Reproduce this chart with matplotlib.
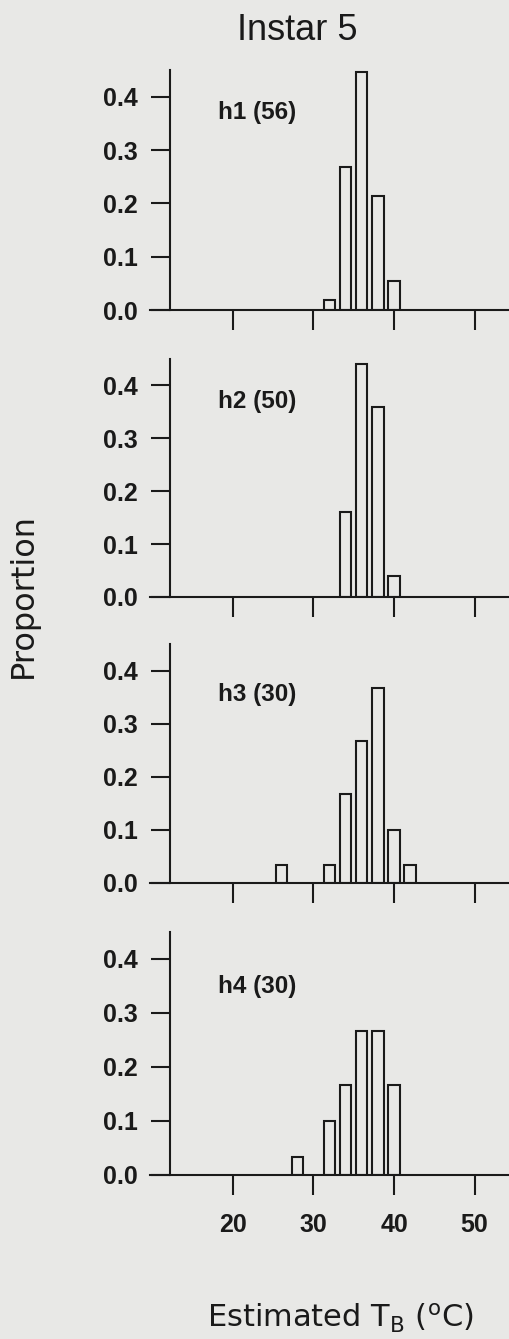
import matplotlib
matplotlib.use("Agg")
import matplotlib.pyplot as plt
import numpy as np

plt.rcParams['font.family'] = ['Liberation Sans', 'DejaVu Sans']
plt.rcParams['mathtext.fontset'] = 'custom'
plt.rcParams['mathtext.rm'] = 'DejaVu Sans'
plt.rcParams['mathtext.it'] = 'DejaVu Sans:italic'
plt.rcParams['mathtext.bf'] = 'DejaVu Sans:bold'

# Body temperature bins (deg C) and counts per bin for each habitat
bin_centers = [26, 28, 30, 32, 34, 36, 38, 40, 42]
habitats = ['h1', 'h2', 'h3', 'h4']
sample_sizes = [56, 50, 30, 30]
counts_h1 = [0, 0, 0, 1, 15, 25, 12, 3, 0]
counts_h2 = [0, 0, 0, 0, 8, 22, 18, 2, 0]
counts_h3 = [1, 0, 0, 1, 5, 8, 11, 3, 1]
counts_h4 = [0, 1, 0, 3, 5, 8, 8, 5, 0]
all_counts = [counts_h1, counts_h2, counts_h3, counts_h4]

x_ticks = [20, 30, 40, 50]
y_ticks = [0.0, 0.1, 0.2, 0.3, 0.4]

W, H = 510, 1339
bg = '#e8e8e6'
ink = '#1a1a1a'
fig = plt.figure(figsize=(W / 100, H / 100), dpi=100, facecolor=bg)

# panel extents in pixels: (x-axis row, top of y range)
panel_px = [(310, 70), (597, 359), (883, 644), (1175, 932)]
label_y = [0.37, 0.37, 0.355, 0.35]
left_px, right_px = 150, 510
xlim = (9.7, 54.4)
spine_x = 12.2

for i, (bottom, top) in enumerate(panel_px):
    ax = fig.add_axes([left_px / W, 1 - bottom / H,
                       (right_px - left_px) / W, (bottom - top) / H])
    ax.set_facecolor('none')
    props = np.array(all_counts[i]) / sample_sizes[i]
    mask = props > 0
    ax.bar(np.array(bin_centers)[mask], props[mask], width=1.4,
           facecolor='none', edgecolor=ink, linewidth=1.5)
    ax.set_xlim(*xlim)
    ax.set_ylim(0, 0.45)
    for s in ['top', 'right']:
        ax.spines[s].set_visible(False)
    ax.spines['left'].set_position(('data', spine_x))
    for s in ['left', 'bottom']:
        ax.spines[s].set_linewidth(1.5)
        ax.spines[s].set_color(ink)
    ax.set_xticks(x_ticks)
    ax.set_yticks(y_ticks)
    ax.set_yticklabels([f'{v:.1f}' for v in y_ticks], fontsize=18,
                       fontweight='bold', color=ink)
    ax.tick_params(axis='y', direction='out', length=14, width=1.5,
                   pad=9, colors=ink)
    ax.tick_params(axis='x', direction='out', length=14.5, width=1.5,
                   pad=13, colors=ink)
    if i < 3:
        ax.set_xticklabels([])
    else:
        ax.set_xticklabels([str(v) for v in x_ticks], fontsize=18,
                           fontweight='bold', color=ink)
    ax.text(18.2, label_y[i], f'{habitats[i]} ({sample_sizes[i]})',
            fontsize=17.5, fontweight='bold', color=ink,
            ha='left', va='center')

fig.text(297 / W, 1 - 40 / H, 'Instar 5', fontsize=26, color=ink,
         ha='center', va='baseline')
fig.text(23 / W, 1 - 595 / H, 'Proportion', fontsize=23, color=ink,
         family='DejaVu Sans', ha='center', va='center', rotation=90)
fig.text(340 / W, 1 - 1328 / H, r'Estimated T$_\mathrm{B}$ ($^\mathrm{o}$C)',
         fontsize=22, color=ink, family='DejaVu Sans',
         ha='center', va='baseline')

fig.savefig('out.png', dpi=100, facecolor=bg)
